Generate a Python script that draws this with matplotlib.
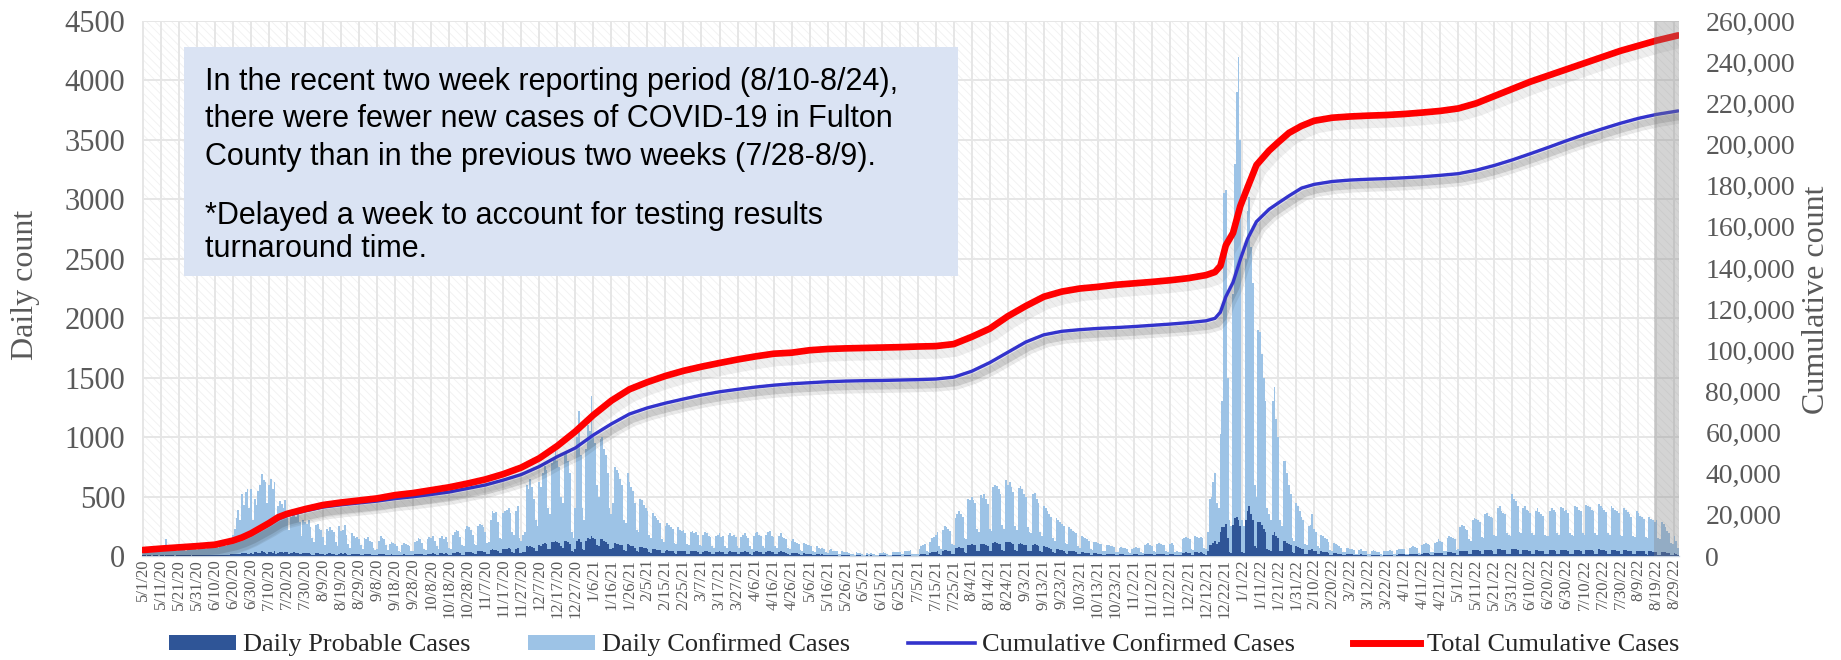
import numpy as np
import pandas as pd
import matplotlib
matplotlib.use("Agg")
import matplotlib.pyplot as plt
import matplotlib.patheffects as pe
from matplotlib.patches import Rectangle, Patch
from matplotlib.lines import Line2D
from matplotlib.ticker import FuncFormatter, MultipleLocator

# ---------------- data ----------------
start_date = "2020-05-01"

# Daily confirmed cases, rows of 10 days starting at each tick date
confirmed_rows = [
    [40, 35, 30, 45, 50, 40, 30, 45, 50, 55],            # 5/1/20
    [45, 50, 60, 140, 50, 45, 55, 60, 50, 45],           # 5/11
    [50, 60, 65, 55, 45, 60, 70, 65, 60, 55],            # 5/21
    [50, 60, 70, 75, 65, 55, 70, 80, 75, 70],            # 5/31
    [80, 75, 70, 90, 100, 95, 85, 110, 120, 150],        # 6/10
    [180, 230, 320, 390, 300, 520, 430, 540, 560, 400],  # 6/20
    [560, 300, 480, 430, 550, 600, 690, 640, 620, 450],  # 6/30
    [600, 650, 560, 620, 300, 420, 460, 440, 400, 470],  # 7/10
    [380, 220, 330, 380, 350, 330, 400, 290, 170, 300],  # 7/20
    [290, 270, 300, 240, 150, 120, 260, 270, 230, 220],  # 7/30
    [160, 90, 230, 210, 240, 220, 200, 120, 80, 250],    # 8/9
    [210, 220, 260, 180, 100, 70, 190, 170, 150, 160],   # 8/19
    [140, 90, 60, 150, 140, 160, 130, 120, 70, 50],      # 8/29
    [60, 130, 170, 150, 140, 90, 50, 100, 120, 110],     # 9/8
    [100, 80, 40, 30, 90, 110, 100, 90, 80, 40],         # 9/18
    [40, 120, 130, 150, 140, 110, 60, 50, 140, 160],     # 9/28
    [150, 170, 130, 80, 60, 150, 170, 140, 160, 120],    # 10/8
    [70, 60, 180, 200, 220, 210, 160, 90, 80, 230],      # 10/18
    [250, 240, 220, 180, 100, 90, 250, 270, 260, 240],   # 10/28
    [200, 110, 120, 300, 380, 360, 370, 290, 150, 140],  # 11/7
    [360, 380, 390, 400, 360, 200, 180, 380, 420, 150],  # 11/17
    [130, 180, 200, 600, 560, 650, 580, 480, 300, 250],  # 11/27
    [620, 580, 700, 760, 720, 400, 350, 780, 820, 880],  # 12/7
    [800, 750, 500, 450, 850, 880, 800, 700, 200, 150],  # 12/17
    [400, 1000, 1220, 850, 400, 300, 900, 1100, 1050, 1350],  # 12/27
    [1000, 950, 600, 500, 980, 1000, 900, 850, 700, 400],     # 1/6/21
    [350, 450, 750, 720, 700, 650, 600, 300, 280, 700],  # 1/16
    [620, 580, 550, 450, 220, 200, 480, 470, 430, 400],  # 1/26
    [380, 180, 150, 360, 340, 320, 300, 280, 140, 120],  # 2/5
    [250, 280, 260, 240, 230, 110, 100, 240, 220, 210],  # 2/15
    [220, 190, 100, 90, 200, 210, 190, 200, 180, 90],    # 2/25
    [80, 180, 200, 190, 170, 160, 80, 70, 170, 180],     # 3/7
    [190, 160, 170, 80, 70, 180, 190, 170, 180, 160],    # 3/17
    [80, 70, 160, 180, 190, 170, 150, 80, 60, 170],      # 3/27
    [190, 200, 180, 170, 80, 70, 180, 200, 210, 170],    # 4/6
    [160, 80, 70, 170, 190, 160, 150, 140, 70, 60],      # 4/16
    [130, 140, 120, 110, 100, 50, 40, 110, 100, 90],     # 4/26
    [90, 80, 40, 30, 80, 70, 60, 70, 60, 30],            # 5/6
    [25, 50, 55, 45, 40, 40, 20, 20, 40, 35],            # 5/16
    [30, 30, 25, 15, 15, 10, 30, 25, 25, 20],            # 5/26
    [10, 10, 25, 20, 25, 20, 20, 10, 10, 25],            # 6/5
    [25, 30, 25, 20, 10, 10, 30, 30, 35, 30],            # 6/15
    [30, 15, 15, 40, 45, 40, 50, 20, 15, 20],            # 6/25
    [15, 60, 80, 90, 100, 40, 30, 120, 150, 160],        # 7/5
    [180, 200, 80, 60, 220, 250, 240, 230, 210, 100],    # 7/15
    [90, 320, 350, 380, 350, 330, 150, 140, 480, 470],   # 7/25
    [500, 470, 450, 230, 200, 510, 490, 520, 480, 440],  # 8/4
    [230, 210, 580, 600, 590, 560, 520, 260, 230, 640],  # 8/14
    [600, 620, 580, 540, 250, 220, 570, 590, 560, 520],  # 8/24
    [500, 240, 200, 190, 520, 530, 480, 450, 200, 170],  # 9/3
    [420, 400, 380, 350, 330, 150, 130, 320, 300, 290],  # 9/13
    [270, 250, 110, 100, 240, 230, 210, 200, 190, 80],   # 9/23
    [70, 170, 160, 150, 140, 130, 60, 50, 120, 120],     # 10/3
    [110, 100, 100, 40, 40, 90, 90, 80, 80, 75],         # 10/13
    [35, 30, 70, 75, 70, 65, 60, 30, 25, 60],            # 10/23
    [70, 75, 70, 65, 30, 25, 90, 100, 110, 90],          # 11/2
    [80, 40, 35, 100, 110, 100, 95, 90, 40, 35],         # 11/12
    [100, 110, 90, 30, 40, 30, 35, 140, 150, 160],       # 11/22
    [150, 140, 60, 50, 170, 160, 150, 160, 150, 70],     # 12/2
    [60, 200, 480, 500, 620, 700, 450, 400, 1030, 1300], # 12/12
    [3050, 3080, 1500, 300, 250, 2200, 3300, 3900, 4200, 3500],  # 12/22
    [300, 250, 2500, 2900, 3020, 2600, 2300, 600, 500, 1900],    # 1/1/22
    [1880, 1700, 1500, 1300, 400, 350, 300, 1300, 1420, 1150],   # 1/11
    [1000, 300, 250, 800, 800, 700, 600, 520, 150, 130], # 1/21
    [450, 420, 380, 330, 300, 100, 90, 250, 260, 350],   # 1/31
    [230, 200, 80, 70, 180, 170, 150, 140, 120, 50],     # 2/10
    [40, 110, 100, 90, 80, 70, 30, 30, 70, 65],          # 2/20
    [60, 55, 50, 20, 20, 50, 60, 45, 40, 40],            # 3/2
    [15, 15, 45, 50, 40, 35, 35, 15, 10, 40],            # 3/12
    [45, 40, 50, 45, 15, 15, 50, 55, 60, 55],            # 3/22
    [60, 20, 20, 70, 75, 80, 75, 70, 25, 20],            # 4/1
    [90, 100, 110, 100, 90, 30, 30, 110, 120, 140],      # 4/11
    [130, 120, 40, 40, 150, 170, 160, 150, 140, 50],     # 4/21
    [60, 240, 260, 250, 230, 220, 140, 130, 300, 320],   # 5/1
    [310, 300, 290, 160, 150, 350, 360, 340, 330, 320],  # 5/11
    [180, 170, 400, 420, 380, 360, 350, 190, 180, 170],  # 5/21
    [520, 480, 460, 420, 200, 190, 400, 420, 390, 380],  # 5/31
    [360, 190, 180, 380, 400, 370, 350, 340, 180, 170],  # 6/10
    [170, 380, 400, 390, 370, 190, 180, 410, 400, 380],  # 6/20
    [390, 360, 190, 180, 170, 420, 410, 390, 380, 190],  # 6/30
    [180, 430, 420, 410, 390, 380, 190, 180, 440, 420],  # 7/10
    [400, 390, 370, 190, 180, 420, 400, 390, 380, 360],  # 7/20
    [180, 170, 400, 390, 370, 350, 330, 170, 160, 380],  # 7/30
    [360, 340, 330, 310, 160, 150, 330, 310, 300, 290],  # 8/9
    [300, 150, 140, 290, 270, 240, 210, 190, 110, 100],  # 8/19
    [170, 130, 70],                                      # 8/29
]

# Daily probable cases, same layout
probable_rows = [
    [5, 5, 4, 6, 5, 4, 5, 6, 5, 4],
    [6, 5, 4, 10, 6, 5, 6, 5, 4, 5],
    [6, 5, 5, 6, 7, 6, 5, 4, 6, 7],
    [7, 6, 5, 8, 9, 8, 7, 5, 6, 8],
    [10, 9, 8, 12, 10, 9, 8, 10, 12, 14],
    [15, 18, 20, 16, 14, 22, 25, 24, 20, 18],
    [25, 18, 30, 35, 28, 25, 40, 30, 28, 20],
    [35, 30, 28, 45, 20, 25, 30, 35, 28, 30],
    [30, 20, 25, 28, 30, 25, 22, 20, 15, 25],
    [22, 25, 28, 20, 12, 10, 25, 22, 20, 18],
    [15, 10, 20, 22, 25, 18, 16, 10, 8, 20],
    [22, 20, 25, 18, 10, 8, 20, 18, 16, 15],
    [15, 10, 8, 18, 16, 15, 14, 12, 8, 6],
    [8, 14, 16, 15, 14, 10, 6, 12, 14, 12],
    [12, 10, 6, 5, 12, 14, 12, 10, 10, 6],
    [6, 15, 16, 18, 16, 14, 8, 7, 18, 20],
    [20, 22, 18, 10, 8, 22, 24, 20, 22, 18],
    [10, 9, 26, 28, 30, 30, 24, 12, 12, 32],
    [35, 34, 32, 28, 15, 14, 38, 40, 38, 36],
    [30, 18, 18, 50, 55, 52, 54, 45, 25, 22],
    [55, 60, 62, 64, 58, 30, 28, 60, 65, 25],
    [22, 30, 32, 80, 75, 85, 78, 70, 45, 40],
    [90, 85, 100, 110, 105, 60, 55, 115, 120, 125],
    [120, 110, 80, 70, 125, 130, 120, 100, 40, 35],
    [60, 130, 145, 120, 60, 50, 130, 150, 140, 170],
    [150, 140, 90, 80, 140, 145, 130, 120, 100, 60],
    [55, 70, 110, 105, 100, 95, 90, 50, 45, 100],
    [90, 85, 80, 70, 40, 35, 75, 72, 68, 65],
    [60, 30, 28, 58, 55, 52, 50, 48, 25, 22],
    [45, 48, 46, 44, 42, 22, 20, 44, 42, 40],
    [42, 38, 20, 18, 40, 42, 38, 40, 36, 18],
    [16, 36, 40, 38, 35, 32, 16, 14, 34, 36],
    [38, 32, 34, 16, 14, 36, 38, 34, 36, 32],
    [16, 14, 32, 36, 38, 34, 30, 16, 12, 34],
    [38, 40, 36, 34, 16, 14, 36, 40, 42, 34],
    [32, 16, 14, 34, 38, 32, 30, 28, 14, 12],
    [26, 28, 24, 22, 20, 10, 8, 22, 20, 18],
    [18, 16, 8, 6, 16, 14, 12, 14, 12, 6],
    [5, 10, 11, 9, 8, 8, 4, 4, 8, 7],
    [6, 6, 5, 3, 3, 2, 6, 5, 5, 4],
    [2, 2, 5, 4, 5, 4, 4, 2, 2, 5],
    [5, 6, 5, 4, 2, 2, 6, 6, 7, 6],
    [6, 3, 3, 8, 9, 8, 10, 4, 3, 4],
    [3, 12, 16, 18, 20, 8, 6, 24, 30, 32],
    [36, 40, 16, 12, 44, 50, 48, 46, 42, 20],
    [18, 64, 70, 76, 70, 66, 30, 28, 96, 94],
    [100, 94, 90, 46, 40, 102, 98, 104, 96, 88],
    [46, 42, 110, 115, 112, 105, 100, 50, 45, 120],
    [115, 118, 110, 100, 48, 44, 105, 110, 104, 96],
    [92, 46, 40, 38, 96, 98, 90, 84, 40, 34],
    [80, 76, 72, 66, 62, 30, 26, 60, 56, 54],
    [50, 46, 22, 20, 44, 42, 40, 38, 36, 16],
    [14, 32, 30, 28, 26, 24, 12, 10, 22, 22],
    [20, 18, 18, 8, 8, 16, 16, 15, 15, 14],
    [7, 6, 13, 14, 13, 12, 11, 6, 5, 11],
    [13, 14, 13, 12, 6, 5, 16, 18, 20, 16],
    [15, 8, 7, 18, 20, 18, 17, 16, 8, 7],
    [18, 20, 16, 6, 8, 6, 7, 26, 28, 30],
    [28, 26, 12, 10, 32, 30, 28, 30, 28, 14],
    [12, 38, 90, 95, 110, 130, 100, 120, 200, 240],
    [240, 270, 150, 30, 25, 260, 320, 330, 300, 250],
    [30, 25, 300, 380, 420, 350, 300, 80, 70, 290],
    [290, 260, 230, 200, 60, 50, 45, 180, 200, 170],
    [150, 45, 40, 130, 125, 110, 100, 90, 30, 25],
    [80, 75, 70, 60, 55, 20, 18, 50, 48, 55],
    [45, 40, 15, 14, 38, 35, 32, 30, 26, 10],
    [9, 24, 22, 20, 18, 16, 7, 7, 16, 15],
    [14, 13, 12, 5, 5, 12, 14, 11, 10, 10],
    [4, 4, 11, 12, 10, 9, 9, 4, 3, 10],
    [11, 10, 12, 11, 4, 4, 12, 13, 14, 13],
    [14, 5, 5, 16, 17, 18, 17, 16, 6, 5],
    [20, 22, 24, 22, 20, 8, 8, 24, 26, 28],
    [28, 26, 10, 10, 30, 32, 30, 28, 26, 12],
    [12, 40, 44, 42, 40, 38, 15, 14, 48, 50],
    [50, 48, 46, 18, 16, 52, 54, 50, 48, 46],
    [18, 16, 56, 58, 54, 50, 48, 20, 18, 16],
    [62, 58, 55, 52, 20, 18, 50, 52, 48, 46],
    [44, 18, 16, 48, 50, 46, 44, 42, 16, 15],
    [14, 48, 50, 48, 46, 18, 16, 52, 50, 48],
    [48, 45, 18, 16, 14, 52, 50, 48, 46, 18],
    [16, 54, 52, 50, 48, 46, 18, 16, 56, 52],
    [50, 48, 46, 18, 16, 52, 50, 48, 46, 44],
    [16, 14, 50, 48, 46, 44, 42, 14, 13, 46],
    [44, 42, 40, 38, 13, 12, 40, 38, 36, 34],
    [32, 12, 10, 36, 34, 30, 26, 24, 9, 8],
    [22, 18, 10],
]

# Cumulative series read at these day offsets from 5/1/20
cum_days = [0, 10, 20, 30, 40, 50, 55, 60, 65, 70, 75, 80, 90, 100, 110, 120, 130, 140,
            150, 160, 170, 180, 190, 200, 210, 220, 230, 240, 250, 260, 270, 280, 290,
            300, 310, 320, 330, 340, 350, 360, 370, 380, 390, 400, 410, 420, 430, 440,
            450, 460, 470, 480, 490, 500, 510, 520, 530, 540, 550, 560, 570, 580, 590,
            595, 598, 601, 605, 609, 613, 618, 625, 630, 636, 643, 650, 660, 670, 680,
            690, 700, 710, 720, 730, 740, 750, 760, 770, 780, 790, 800, 810, 820, 830,
            840, 852]
cum_total = [2900, 3600, 4200, 4800, 5500, 7500, 9000, 11000, 13500, 16000, 18800, 20500,
             22800, 24800, 26000, 27000, 28000, 29600, 30600, 32000, 33400, 35200, 37200,
             39800, 43000, 47500, 53500, 60500, 68500, 75500, 81000, 84500, 87500, 90000,
             92000, 93800, 95500, 97000, 98300, 98800, 100000, 100600, 100900, 101100,
             101300, 101500, 101800, 102000, 103000, 106500, 110500, 116500, 121500,
             126000, 128500, 130000, 130800, 131800, 132500, 133200, 134000, 135000,
             136500, 138000, 141000, 151000, 157000, 170000, 179000, 190000, 197000,
             201000, 205600, 209000, 211500, 213000, 213600, 214000, 214300, 214800,
             215500, 216300, 217500, 220000, 223500, 227000, 230500, 233500, 236500,
             239500, 242500, 245500, 248000, 250500, 253000]
cum_confirmed = [2600, 3300, 3900, 4500, 5200, 7100, 8600, 10500, 12900, 15300, 18000,
                 19700, 21900, 23800, 24900, 25800, 26700, 27900, 28800, 29900, 31100,
                 32800, 34500, 36900, 39600, 43500, 48300, 52500, 58800, 64200, 69000,
                 72000, 74300, 76300, 78200, 79800, 81000, 82100, 83000, 83700, 84200,
                 84700, 85000, 85200, 85300, 85500, 85700, 86000, 86900, 89800, 94000,
                 99000, 104000, 107500, 109200, 110000, 110600, 111000, 111500, 112100,
                 112700, 113400, 114300, 115500, 118500, 126000, 133000, 144000, 154000,
                 162500, 168500, 171500, 175000, 178800, 180600, 182000, 182700, 183100,
                 183400, 183800, 184300, 185000, 185800, 187500, 189800, 192500, 195500,
                 198600, 201800, 204800, 207600, 210300, 212700, 214600, 216300]

shade_start_day = 838.5   # grey highlighted final two weeks

box_lines_1 = ["In the recent two week reporting period (8/10-8/24),",
               "there were fewer new cases of COVID-19 in Fulton",
               "County than in the previous two weeks (7/28-8/9)."]
box_lines_2 = ["*Delayed a week to account for testing results",
               "turnaround time."]

legend_labels = ["Daily Probable Cases", "Daily Confirmed Cases",
                 "Cumulative Confirmed Cases", "Total Cumulative Cases"]

# ---------------- derived ----------------
confirmed = [v for row in confirmed_rows for v in row]
probable = [v for row in probable_rows for v in row]
N = len(confirmed)
dates = pd.date_range(start_date, periods=N, freq="D")
tick_pos = list(range(0, N, 10))
tick_labels = [f"{dates[i].month}/{dates[i].day}/{dates[i].year % 100}" for i in tick_pos]

# ---------------- styling ----------------
SERIF = ["Liberation Serif", "DejaVu Serif"]
SANS = ["Liberation Sans", "DejaVu Sans"]
plt.rcParams["font.family"] = SERIF
plt.rcParams["hatch.linewidth"] = 0.6
GREY_TXT = "#595959"

W, H = 1841, 660
fig = plt.figure(figsize=(W / 100, H / 100), dpi=100)
L, R, T, B = 142, 1679, 21, 556
ax = fig.add_axes([L / W, 1 - B / H, (R - L) / W, (B - T) / H])
ax2 = ax.twinx()

# faint diagonal texture of the plot area
ax.add_patch(Rectangle((0, 0), 1, 1, transform=ax.transAxes, facecolor="white",
                       edgecolor="#f1f1f1", hatch="\\\\\\\\", lw=0, zorder=0.1))

x = np.arange(N)
ax.bar(x, confirmed, width=1.0, color="#9DC3E6", linewidth=0, zorder=2)
ax.bar(x, probable, width=1.0, color="#2F5597", linewidth=0, zorder=3)

ax.set_xlim(-0.5, N - 0.5)
ax.set_ylim(0, 4500)
ax.yaxis.set_major_locator(MultipleLocator(500))
ax.set_xticks(tick_pos)
ax.set_xticklabels(tick_labels, rotation=90, fontsize=12, color=GREY_TXT)
ax.tick_params(axis="x", length=0, pad=2)
ax.tick_params(axis="y", length=0, pad=12, labelsize=22, labelcolor=GREY_TXT)
ax.set_axisbelow(True)
ax.grid(True, which="major", axis="both", color="#e6e6e6", lw=1.4, zorder=0.5)
for s in ["top", "left", "right"]:
    ax.spines[s].set_visible(False)
ax.spines["bottom"].set_color("#c9d3df")
ax.spines["bottom"].set_linewidth(1.0)

shadow_blue = [pe.SimpleLineShadow(offset=(2, -4), shadow_color="#303030", alpha=0.10, linewidth=10),
               pe.SimpleLineShadow(offset=(2, -4), shadow_color="#303030", alpha=0.16, linewidth=5),
               pe.Normal()]
shadow_red = [pe.SimpleLineShadow(offset=(2, -4), shadow_color="#303030", alpha=0.08, linewidth=10),
              pe.Normal()]
ax2.plot(cum_days, cum_confirmed, color="#3333CC", lw=2.4, solid_capstyle="round",
         path_effects=shadow_blue, zorder=4)
ax2.plot(cum_days, cum_total, color="#FF0000", lw=4.8, solid_capstyle="round",
         path_effects=shadow_red, zorder=5)
ax2.set_ylim(0, 260000)
ax2.yaxis.set_major_locator(MultipleLocator(20000))
ax2.yaxis.set_major_formatter(FuncFormatter(lambda v, p: f"{v:,.0f}"))
ax2.tick_params(axis="y", length=0, pad=19, labelsize=20, labelcolor=GREY_TXT)
for s in ax2.spines.values():
    s.set_visible(False)

# highlighted final period
ax2.axvspan(shade_start_day, N - 0.5, color="#7f7f7f", alpha=0.33, lw=0, zorder=10)

# axis titles
fig.text(26 / W, 1 - 285 / H, "Daily count", rotation=90, ha="center", va="center",
         fontsize=23, color=GREY_TXT)
fig.text(1816 / W, 1 - 300 / H, "Cumulative count", rotation=90, ha="center", va="center",
         fontsize=23, color=GREY_TXT)

# annotation box
fig.patches.append(Rectangle((184 / W, 1 - 276 / H), (958 - 184) / W, (276 - 47) / H,
                             transform=fig.transFigure, facecolor="#DAE3F3",
                             edgecolor="none", zorder=20))
for yb, line in zip([90, 127, 165], box_lines_1):
    fig.text(205 / W, 1 - yb / H, line, fontsize=22, family=SANS, va="baseline",
             ha="left", color="black", zorder=21)
for yb, line in zip([224, 257], box_lines_2):
    fig.text(205 / W, 1 - yb / H, line, fontsize=22, family=SANS, va="baseline",
             ha="left", color="black", zorder=21)

# legend
handles = [Patch(facecolor="#2F5597", edgecolor="none"),
           Patch(facecolor="#9DC3E6", edgecolor="none"),
           Line2D([], [], color="#3333CC", lw=2.6),
           Line2D([], [], color="#FF0000", lw=5)]
fig.legend(handles, legend_labels, loc="center", bbox_to_anchor=(924 / W, 1 - 645 / H),
           ncol=4, frameon=False, prop={"family": SERIF, "size": 19},
           handlelength=2.55, handletextpad=0.25, columnspacing=2.2, handleheight=0.5,
           labelcolor="#262626")

fig.savefig("out.png", dpi=100)
